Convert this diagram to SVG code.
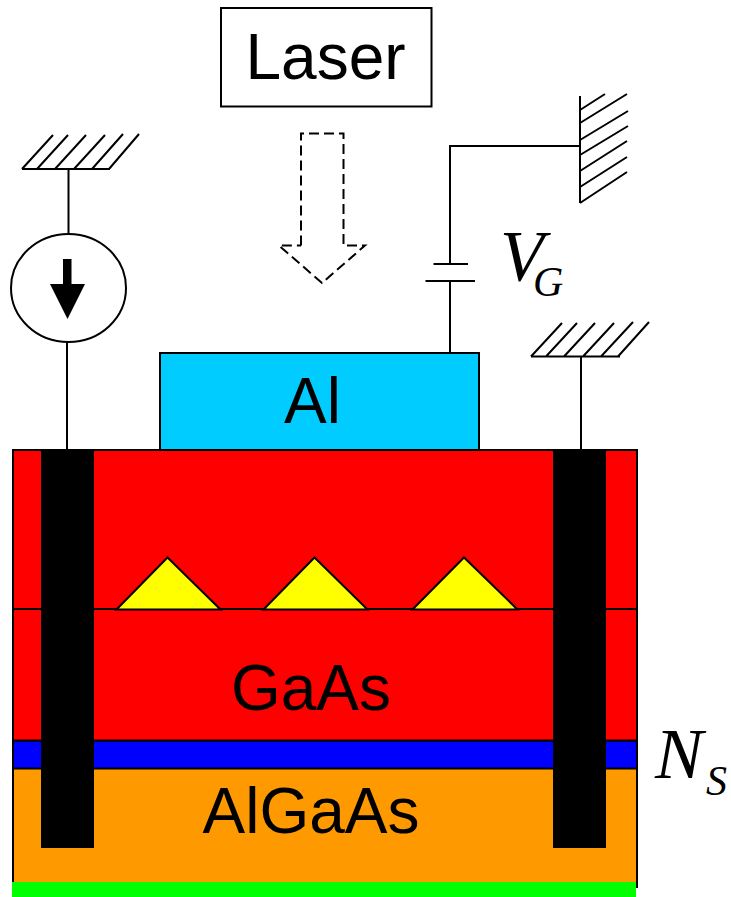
<svg xmlns="http://www.w3.org/2000/svg" width="731" height="897" viewBox="0 0 731 897">
<style>
.l{fill:none;stroke:#000;stroke-width:2}
.b{stroke:#000;stroke-width:2}
.t{font-family:"Liberation Sans",Arial,sans-serif;fill:#000;font-size:64px;text-anchor:middle}
.i{font-family:"Liberation Serif","Times New Roman",serif;font-style:italic;fill:#000;font-size:72px}
.s{font-size:42px}
.k{fill:#000;stroke:none}
</style>
<rect width="731" height="897" fill="#fff"/>
<g id="connectors">
<path class="l" d="M68.500 169V234M67 342V450"/>
<path class="l" d="M450 353V281M450 264V146H579"/>
<path class="l" d="M581 356V450"/>
</g>
<g id="substrate">
<rect x="13" y="768" width="624" height="115" fill="#ff9900"/>
<path class="l" d="M13 768V882M637 768V888"/>
<rect x="12" y="882" width="624" height="15" fill="#00ff00"/>
</g>
<g id="ns-layer"><rect x="13" y="740.500" width="624" height="28" fill="#0000ff" class="b"/></g>
<g id="gaas-lower"><rect x="13" y="609" width="624" height="131.500" fill="#ff0000" class="b"/></g>
<g id="gaas-upper"><rect x="13" y="450" width="624" height="159" fill="#ff0000" class="b"/></g>
<g id="dots">
<polygon points="116.500,609.500 167.500,557.500 220.500,609.500" fill="#ffff00" class="b"/>
<polygon points="263.500,609.500 314.500,557.500 367.500,609.500" fill="#ffff00" class="b"/>
<polygon points="412.500,609.500 464,557.500 517.500,609.500" fill="#ffff00" class="b"/>
</g>
<g id="contact-left"><rect x="41" y="450" width="53" height="398" class="k"/></g>
<g id="contact-right"><rect x="553" y="450" width="53" height="398" class="k"/></g>
<g id="gate"><rect x="160" y="353" width="319" height="97" fill="#00ccff" class="b"/><text class="t" x="312.500" y="423">Al</text></g>
<g id="laser"><rect x="221" y="8" width="210.500" height="98.500" fill="#fff" class="b"/><text class="t" x="325.500" y="79">Laser</text></g>
<g id="beam"><path class="l" stroke-dasharray="10 5" d="M301 245.500V133.500H343.500V245.500H365L322 283L279 245.500H301"/></g>
<g id="source-ground"><path class="l" d="M22 169H110M22 169L53 135M37 169L68 135M55 169L86 135M74 169L105 135M92 169L123 134M109 169L139 134"/></g>
<g id="source"><ellipse cx="68.500" cy="288" rx="57.500" ry="54" fill="#fff" class="b"/><polygon class="k" points="63,259 71.500,259 71.500,284 85,284 67.500,319 50,284 63,284"/></g>
<g id="capacitor"><path class="l" d="M433.500 264H468M425.500 281H475"/></g>
<g id="gate-ground"><path class="l" d="M580 96V203M580 110L605 94M580 123L627 94M580 140L628 111M580 155L628 126M580 171L627 141M580 187L627 157M580 203L627 172"/></g>
<g id="right-ground"><path class="l" d="M531 356.500H620M531 356.500L562 323M546 356.500L577 323M564 356.500L595 323M583 356.500L614 323M601 356.500L633 322M618 356.500L649 322"/></g>
<g id="labels">
<text class="t" x="311" y="710">GaAs</text>
<text class="t" x="311" y="833">AlGaAs</text>
<text class="i" x="500" y="280">V<tspan class="s" x="533" y="296">G</tspan></text>
<text class="i" x="655" y="778">N<tspan class="s" x="706" y="795">S</tspan></text>
</g>
</svg>
